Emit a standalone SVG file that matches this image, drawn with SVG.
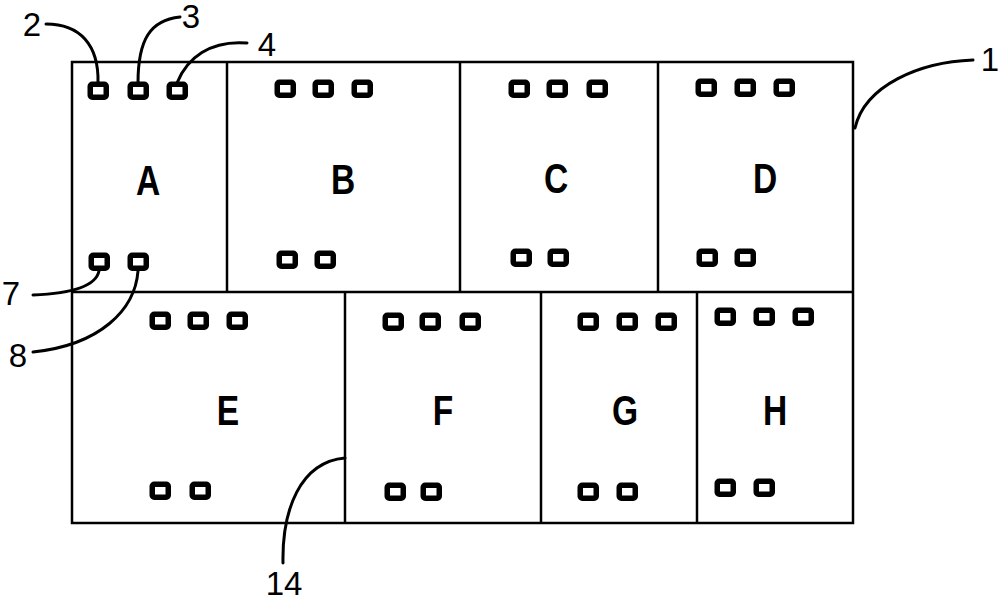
<svg xmlns="http://www.w3.org/2000/svg" width="1000" height="606" viewBox="0 0 1000 606">
<defs>
<style>
.frame{fill:none;stroke:#000;stroke-width:2.5}
.sq{fill:#fff;stroke:#000;stroke-width:5.5}
.lbl{font-family:"Liberation Sans",Arial,sans-serif;font-size:43px;font-weight:bold;text-anchor:middle;fill:#000}
.num{font-family:"Liberation Sans",Arial,sans-serif;font-size:33px;text-anchor:middle;fill:#000}
.lead{fill:none;stroke:#000;stroke-width:3;stroke-linecap:round}
</style>
<rect id="s" class="sq" x="2.25" y="2.25" width="16" height="13" rx="2"/>
</defs>
<rect width="1000" height="606" fill="#fff"/>
<g id="frame">
<rect class="frame" x="72" y="62" width="781" height="461"/>
<line class="frame" x1="72" y1="292" x2="853" y2="292"/>
</g>
<g id="node-A"><line class="frame" x1="227" y1="62" x2="227" y2="292"/>
<use href="#s" x="88" y="82"/><use href="#s" x="128" y="82"/><use href="#s" x="167" y="82"/>
<use href="#s" x="89" y="253"/><use href="#s" x="128" y="253"/>
<text class="lbl" transform="translate(148 195) scale(0.78 1)">A</text></g>
<g id="node-B"><line class="frame" x1="460" y1="62" x2="460" y2="292"/>
<use href="#s" x="275" y="80"/><use href="#s" x="313" y="80"/><use href="#s" x="352" y="80"/>
<use href="#s" x="277" y="251"/><use href="#s" x="315" y="251"/>
<text class="lbl" transform="translate(343 194) scale(0.78 1)">B</text></g>
<g id="node-C"><line class="frame" x1="658" y1="62" x2="658" y2="292"/>
<use href="#s" x="509" y="80"/><use href="#s" x="547" y="80"/><use href="#s" x="587" y="80"/>
<use href="#s" x="511" y="249"/><use href="#s" x="548" y="249"/>
<text class="lbl" transform="translate(556 193) scale(0.78 1)">C</text></g>
<g id="node-D">
<use href="#s" x="696" y="79"/><use href="#s" x="735" y="79"/><use href="#s" x="774" y="79"/>
<use href="#s" x="697" y="249"/><use href="#s" x="735" y="249"/>
<text class="lbl" transform="translate(765 193) scale(0.78 1)">D</text></g>
<g id="node-E"><line class="frame" x1="345" y1="292" x2="345" y2="523"/>
<use href="#s" x="150" y="312"/><use href="#s" x="188" y="312"/><use href="#s" x="227" y="312"/>
<use href="#s" x="150" y="482"/><use href="#s" x="190" y="482"/>
<text class="lbl" transform="translate(228 425) scale(0.78 1)">E</text></g>
<g id="node-F"><line class="frame" x1="541" y1="292" x2="541" y2="523"/>
<use href="#s" x="383" y="313"/><use href="#s" x="420" y="313"/><use href="#s" x="460" y="313"/>
<use href="#s" x="385" y="483"/><use href="#s" x="421" y="483"/>
<text class="lbl" transform="translate(443 425) scale(0.78 1)">F</text></g>
<g id="node-G"><line class="frame" x1="697" y1="292" x2="697" y2="523"/>
<use href="#s" x="578" y="313"/><use href="#s" x="617" y="313"/><use href="#s" x="656" y="313"/>
<use href="#s" x="578" y="483"/><use href="#s" x="617" y="483"/>
<text class="lbl" transform="translate(625 425) scale(0.78 1)">G</text></g>
<g id="node-H">
<use href="#s" x="715" y="308"/><use href="#s" x="754" y="308"/><use href="#s" x="793" y="308"/>
<use href="#s" x="715" y="479"/><use href="#s" x="754" y="479"/>
<text class="lbl" transform="translate(775 425) scale(0.78 1)">H</text></g>
<g id="connectors">
<path class="lead" d="M46 24 C80 24 99 45 98 83"/>
<path class="lead" d="M180 17 C150 20 138 40 138 83"/>
<path class="lead" d="M247 43 C210 40 187 58 177 83"/>
<path class="lead" d="M855 128 C865 85 920 62 973 60"/>
<path class="lead" d="M33 295 C60 294 95 290 99 271"/>
<path class="lead" d="M33 352 C100 345 135 310 138 271"/>
<path class="lead" d="M283 563 C282 510 300 462 345 458"/>
</g>
<g id="labels">
<text class="num" x="32" y="36">2</text>
<text class="num" x="191" y="28">3</text>
<text class="num" x="267" y="56">4</text>
<text class="num" x="990" y="71">1</text>
<text class="num" x="11" y="305">7</text>
<text class="num" x="18" y="367">8</text>
<text class="num" x="284" y="595">14</text>
</g>
</svg>
